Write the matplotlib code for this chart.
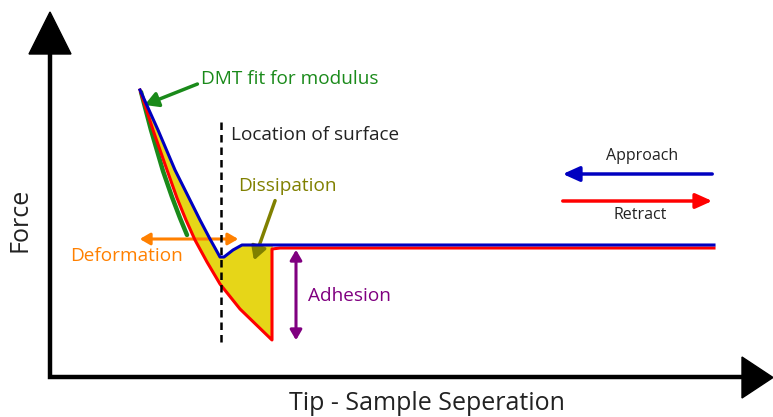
import numpy as np
import matplotlib.pyplot as plt

plt.rcParams['font.family'] = ['Open Sans', 'DejaVu Sans']

# schematic force curves, in picture units (y grows downward)
approach_x = [140, 158, 175, 188, 200, 210, 220, 224, 233, 242, 714]
approach_y = [90, 130, 170, 196, 220, 239, 257, 257, 250, 245, 245]

retract_x = [140, 153, 167, 177, 186, 195, 207, 220, 240, 272, 272, 280, 714]
retract_y = [90, 130, 170, 198, 220, 240, 262, 284, 309, 340, 249, 248, 248]

dmt_x = [141, 151, 163, 172, 180, 187]
dmt_y = [92, 130, 171, 197, 218, 235]

surface_x = 221
surface_y = [122, 343]

fig = plt.figure(figsize=(7.73, 4.17), dpi=100)
ax = fig.add_axes([0, 0, 1, 1])
ax.set_xlim(0, 773)
ax.set_ylim(417, 0)
ax.axis('off')

# axes with arrow heads
ax.plot([50, 50, 745], [50, 377, 377], color='black', lw=3.2, solid_capstyle='butt',
        solid_joinstyle='miter')
ax.fill([29, 71, 50], [54, 54, 12], color='black')
ax.fill([742, 742, 773], [357, 398, 377.5], color='black')

# dissipation area between approach and retract
poly_x = approach_x[:10] + [272] + retract_x[:10][::-1]
poly_y = approach_y[:10] + [245] + retract_y[:10][::-1]
ax.fill(poly_x, poly_y, color='#e6d618', zorder=2)

ax.plot(dmt_x, dmt_y, color='#1a8a1a', lw=3.2, zorder=3, solid_capstyle='round')
ax.plot(retract_x, retract_y, color='#ff0000', lw=2.2, zorder=4)
ax.plot(approach_x, approach_y, color='#0000c0', lw=2.2, zorder=5)

ax.plot([surface_x, surface_x], surface_y, color='black', lw=1.8, ls=(0, (3, 2)), zorder=6)

# annotations
ax.annotate('', xy=(142, 106), xytext=(200, 83),
            arrowprops=dict(arrowstyle='-|>,head_length=0.8,head_width=0.45', color='#1a8a1a', lw=2.5))
ax.text(201, 79, 'DMT fit for modulus', color='#1a8a1a', fontsize=13.7, va='center')

ax.text(231, 135, 'Location of surface', color='#222222', fontsize=13.7, va='center')

ax.annotate('', xy=(253, 263), xytext=(276, 198),
            arrowprops=dict(arrowstyle='-|>,head_length=0.8,head_width=0.45', color='#808000', lw=2.5))
ax.text(238, 186, 'Dissipation', color='#808000', fontsize=13.7, va='center')

ax.annotate('', xy=(137, 239), xytext=(241, 239),
            arrowprops=dict(arrowstyle='<|-|>,head_length=0.6,head_width=0.35', color='#ff8000', lw=2.2))
ax.text(70, 256, 'Deformation', color='#ff8000', fontsize=13.7, va='center')

ax.annotate('', xy=(296, 247), xytext=(296, 343),
            arrowprops=dict(arrowstyle='<|-|>,head_length=0.6,head_width=0.35', color='#800080', lw=2.2))
ax.text(308, 296, 'Adhesion', color='#800080', fontsize=13.7, va='center')

ax.annotate('', xy=(560, 174), xytext=(715, 174),
            arrowprops=dict(arrowstyle='-|>,head_length=1.0,head_width=0.45', color='#0000c0', lw=2.5))
ax.text(642, 156, 'Approach', color='#222222', fontsize=11.5, ha='center', va='center')

ax.annotate('', xy=(715, 201), xytext=(560, 201),
            arrowprops=dict(arrowstyle='-|>,head_length=1.0,head_width=0.45', color='#ff0000', lw=2.5))
ax.text(640, 215, 'Retract', color='#222222', fontsize=11.5, ha='center', va='center')

ax.text(20, 220, 'Force', color='#222222', fontsize=18, rotation=90, ha='center', va='center')
ax.text(427, 404, 'Tip - Sample Seperation', color='#222222', fontsize=18, ha='center', va='center')

fig.savefig('out.png', dpi=100)
